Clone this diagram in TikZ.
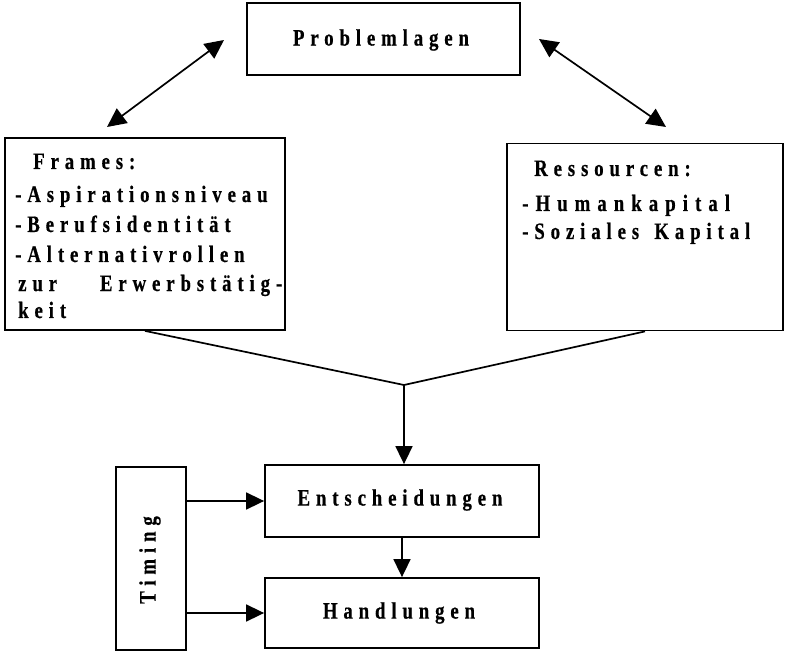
\documentclass[tikz,border=0pt]{standalone}
\usepackage{fontspec}
\newfontfamily\lab[LetterSpace=25,FakeStretch=0.8,FakeBold=0.5]{Liberation Serif}
\usetikzlibrary{arrows.meta}
\tikzset{
  box/.style={draw, line width=1.8pt, inner sep=0pt},
  lbl/.style={font=\lab\bfseries\fontsize{23.5}{25}\selectfont, inner sep=0pt},
  ln/.style={lbl, anchor=base west},
  conn/.style={line width=1.7pt},
  arr/.style={conn, -{Triangle[length=18pt,width=17pt]}},
  darr/.style={conn, {Triangle[length=19pt,width=18pt]}-{Triangle[length=19pt,width=18pt]}},
}
\begin{document}
\begin{tikzpicture}[x=1pt,y=-1pt]
\useasboundingbox (0,0) rectangle (787,652);
% boxes
\node[box, minimum width=273pt, minimum height=72pt] (prob) at (383.5,39) {};
\node[lbl] (probt) at (381,40) {Problemlagen};
\node[box, minimum width=280pt, minimum height=192pt] (frames) at (145,234) {};
\node[box, minimum width=276pt, minimum height=187pt] (ress) at (645,237) {};
\node[box, minimum width=274pt, minimum height=72pt] (ent) at (402,501) {};
\node[lbl] (entt) at (400,500) {Entscheidungen};
\node[box, minimum width=274pt, minimum height=70pt] (hand) at (402,613) {};
\node[lbl] (handt) at (399,613) {Handlungen};
\node[box, minimum width=70pt, minimum height=183pt] (timing) at (151,558.5) {};
\node[lbl, rotate=90] (timingt) at (150,560) {Timing};
% frames text
\node[ln] (f1) at (33,169) {Frames:};
\node[ln] (f2) at (15,202) {-Aspirationsniveau};
\node[ln] (f3) at (15,232) {-Berufsidentität};
\node[ln] (f4) at (15,262) {-Alternativrollen};
\node[ln] (f5) at (18,291) {\makebox[264pt][s]{zur\hfill Erwerbstätig-}};
\node[ln] (f6) at (18,318) {keit};
% ressourcen text
\node[ln] (r1) at (534,176) {Ressourcen:};
\node[ln] (r2) at (522,211) {\addfontfeatures{LetterSpace=30}-Humankapital};
\node[ln] (r3) at (522,239) {\makebox[228pt][s]{-Soziales\hfill Kapital}};
% arrows
\coordinate (pl) at (224,40);
\coordinate (fl) at (107,127);
\coordinate (pr) at (539,39);
\coordinate (rr) at (666,127);
\draw[darr] (pl) -- (fl);
\draw[darr] (pr) -- (rr);
\coordinate (j) at (404,385);
\draw[conn] (frames.south) -- (j) -- (ress.south);
\draw[arr] (j) -- (ent.north -| j);
\draw[arr] (ent.south) -- (hand.north);
\draw[arr] (timing.east |- ent.west) -- (ent.west);
\draw[arr] (timing.east |- hand.west) -- (hand.west);
\end{tikzpicture}
\end{document}
